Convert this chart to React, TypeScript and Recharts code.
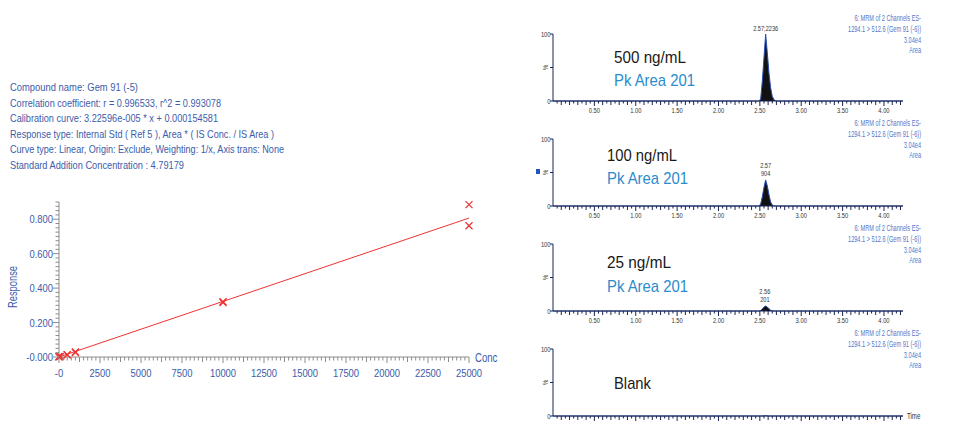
import { ComposedChart, Line, Scatter, XAxis, YAxis, AreaChart, Area, ReferenceDot } from 'recharts';

// calibration points (conc vs response)
const calConc = [0, 0, 100, 500, 500, 1000, 1000, 10000, 10000, 25000, 25000];
const calResp = [0.0, 0.003, 0.004, 0.012, 0.014, 0.026, 0.03, 0.316, 0.321, 0.885, 0.762];
// fitted line end points
const fitConc = [0, 25000];
const fitResp = [0.00016, 0.8066];

const concMajor = [0, 2500, 5000, 7500, 10000, 12500, 15000, 17500, 20000, 22500, 25000];
const respMajor = [0, 0.2, 0.4, 0.6, 0.8];

const infoLines = [
  'Compound name: Gem 91 (-5)',
  'Correlation coefficient: r = 0.996533, r^2 = 0.993078',
  'Calibration curve: 3.22596e-005 * x + 0.000154581',
  'Response type: Internal Std ( Ref 5 ), Area * ( IS Conc. / IS Area )',
  'Curve type: Linear, Origin: Exclude, Weighting: 1/x, Axis trans: None',
  'Standard Addition Concentration : 4.79179',
];

// chromatograms: retention time (min) vs %
const rtMinutes = [0, 2.47, 2.49, 2.51, 2.53, 2.55, 2.57, 2.59, 2.61, 2.63, 2.65, 2.67, 2.69, 2.71, 4.23];
const trace500 = [0, 0, 0, 3, 30, 65, 100, 72, 42, 20, 7, 2, 0.5, 0, 0];
const trace100 = [0, 0, 0, 3, 14, 28, 39, 30, 17, 6, 1.5, 0.3, 0, 0, 0];
const trace25 = [0, 0, 0, 0.8, 3, 6, 7.5, 6, 3.5, 1.2, 0.3, 0, 0, 0, 0];
const traceBlank = [0, 0, 0, 0, 0, 0.2, 0.4, 0.2, 0, 0, 0, 0, 0, 0, 0];
const traces = [trace500, trace100, trace25, traceBlank];

const sampleNames = ['500 ng/mL', '100 ng/mL', '25 ng/mL', 'Blank'];
const areaNotes = ['Pk Area 201', 'Pk Area 201', 'Pk Area 201', ''];
const peakRts = [2.57, 2.57, 2.56, 0];
const peakTops = [100, 39, 7.5, 0];
const peakTexts = [['2.57;2236'], ['2.57', '904'], ['2.56', '201'], []];
const headerLines = ['6: MRM of 2 Channels ES-', '1294.1 > 512.6 (Gem 91 (-6))', '3.04e4', 'Area'];
const rtMajor = [0.5, 1.0, 1.5, 2.0, 2.5, 3.0, 3.5, 4.0];

const BLUE = '#3c5caa';
const RED = '#ee3333';
const SANS = "'Liberation Sans', Arial, sans-serif";

const concTicks = Array.from({ length: 101 }, (_, i) => i * 250);
const respTicks = Array.from({ length: 37 }, (_, i) => Math.round(i * 25) / 1000);
const rtTicks = Array.from({ length: 84 }, (_, i) => Math.round((i + 1) * 5) / 100);

const calPoints = calConc.map((c, i) => ({ conc: c, resp: calResp[i] }));
const fitPoints = fitConc.map((c, i) => ({ conc: c, resp: fitResp[i] }));

// condensed text: the original uses a narrow face
function NText({ x, y, sx = 0.78, size, fill, anchor = 'start', rotate = 0, children }: any) {
  return (
    <text
      transform={`translate(${x} ${y}) rotate(${rotate}) scale(${sx} 1)`}
      fontSize={size}
      fill={fill}
      fontFamily={SANS}
      textAnchor={anchor}
    >
      {children}
    </text>
  );
}

function ConcTick({ x, y, payload }: any) {
  const v = payload.value;
  const major = concMajor.includes(v);
  const len = major ? 6 : v % 1250 === 0 ? 5 : 3.5;
  return (
    <g>
      <line x1={x} x2={x} y1={y} y2={y + len} stroke="#8c8c8c" />
      {major && (
        <NText x={x} y={y + 20} size={11.5} fill={BLUE} anchor="middle" sx={0.82}>
          {v === 0 ? '-0' : v}
        </NText>
      )}
    </g>
  );
}

function RespTick({ x, y, payload }: any) {
  const v = payload.value;
  const major = respMajor.some((m) => Math.abs(m - v) < 1e-6);
  const len = major ? 6 : 3.5;
  return (
    <g>
      <line x1={x} x2={x - len} y1={y} y2={y} stroke="#8c8c8c" />
      {major && (
        <NText x={x - 6} y={y + 4} size={11.5} fill={BLUE} anchor="end" sx={0.82}>
          {v === 0 ? '-0.000' : v.toFixed(3)}
        </NText>
      )}
    </g>
  );
}

function Cross({ cx, cy }: any) {
  const s = 3.5;
  return (
    <g stroke={RED} strokeWidth={1.2}>
      <line x1={cx - s} y1={cy - s} x2={cx + s} y2={cy + s} />
      <line x1={cx - s} y1={cy + s} x2={cx + s} y2={cy - s} />
    </g>
  );
}

function RtTick({ x, y, payload, showLabels }: any) {
  const v = payload.value;
  const major = rtMajor.some((m) => Math.abs(m - v) < 1e-6);
  const tenth = Math.abs(v * 10 - Math.round(v * 10)) < 1e-6;
  const len = major ? 5 : tenth ? 4 : 2.5;
  return (
    <g>
      <line x1={x} x2={x} y1={y} y2={y + len} stroke="#1c2550" />
      {major && showLabels && (
        <NText x={x} y={y + 11.5} size={8} fill="#333" anchor="middle" sx={0.72}>
          {v.toFixed(2)}
        </NText>
      )}
    </g>
  );
}

function PctTick({ x, y, payload }: any) {
  const v = payload.value;
  return (
    <g>
      <line x1={x} x2={x - 3} y1={y} y2={y} stroke="#1c2550" />
      {v === 50 ? (
        <NText x={x - 5} y={y} size={7.5} fill="#333" anchor="middle" rotate={-90} sx={0.8}>
          %
        </NText>
      ) : (
        <NText x={x - 2.5} y={y + 2.8} size={8} fill="#333" anchor="end" sx={0.72}>
          {v}
        </NText>
      )}
    </g>
  );
}

function PeakLabel({ cx, cy, lines }: any) {
  return (
    <g>
      {lines.map((t: string, i: number) => (
        <NText key={i} x={cx} y={cy - 3.5 - (lines.length - 1 - i) * 8.5} size={7.5} fill="#333" anchor="middle" sx={0.75}>
          {t}
        </NText>
      ))}
    </g>
  );
}

function ChromPanel({ index }: { index: number }) {
  const rows = rtMinutes.map((t, i) => ({ t, pct: traces[index][i] }));
  const lines = peakTexts[index];
  return (
    <div style={{ position: 'absolute', left: 530, top: 20 + 105 * index }}>
      <AreaChart width={400} height={105} data={rows} margin={{ top: 14, right: 27, bottom: 0, left: 0 }}>
        <XAxis
          type="number"
          dataKey="t"
          domain={[0, 4.23]}
          ticks={rtTicks}
          interval={0}
          tickSize={0}
          tickMargin={0}
          tickLine={false}
          height={24}
          axisLine={{ stroke: '#1c2550' }}
          tick={<RtTick showLabels={index < 3} />}
          allowDataOverflow
        />
        <YAxis
          type="number"
          domain={[0, 100]}
          ticks={[0, 50, 100]}
          interval={0}
          width={23}
          tickSize={0}
          tickMargin={0}
          tickLine={false}
          axisLine={{ stroke: '#1c2550' }}
          tick={<PctTick />}
        />
        <Area
          type="linear"
          dataKey="pct"
          stroke="#2b4fb0"
          strokeWidth={1}
          fill="#111111"
          fillOpacity={1}
          dot={false}
          activeDot={false}
          isAnimationActive={false}
        />
        {lines.length > 0 && (
          <ReferenceDot
            x={peakRts[index]}
            y={peakTops[index]}
            shape={(p: any) => <PeakLabel cx={p.cx} cy={p.cy} lines={lines} />}
          />
        )}
      </AreaChart>
    </div>
  );
}

const infoWidths = [128, 211, 208, 264, 274, 174];
const nameWidths = [72, 70, 64, 37];

export default function App() {
  return (
    <div style={{ position: 'absolute', left: 0, top: 0, width: 955, height: 423, background: '#fff', overflow: 'hidden' }}>
      <div style={{ position: 'absolute', left: 0, top: 190 }}>
        <ComposedChart width={510} height={210} margin={{ top: 12, right: 41, bottom: 0, left: 0 }}>
          <XAxis
            type="number"
            dataKey="conc"
            domain={[0, 25000]}
            ticks={concTicks}
            interval={0}
            tickSize={0}
            tickMargin={0}
            tickLine={false}
            height={43}
            axisLine={{ stroke: '#8c8c8c' }}
            tick={<ConcTick />}
          />
          <YAxis
            type="number"
            dataKey="resp"
            domain={[0, 0.9]}
            ticks={respTicks}
            interval={0}
            width={59}
            tickSize={0}
            tickMargin={0}
            tickLine={false}
            axisLine={{ stroke: '#8c8c8c' }}
            tick={<RespTick />}
          />
          <Line
            data={fitPoints}
            dataKey="resp"
            type="linear"
            stroke={RED}
            strokeWidth={1}
            dot={false}
            activeDot={false}
            isAnimationActive={false}
          />
          <Scatter data={calPoints} dataKey="resp" shape={<Cross />} isAnimationActive={false} />
        </ComposedChart>
      </div>

      {[0, 1, 2, 3].map((i) => (
        <ChromPanel key={i} index={i} />
      ))}

      <div style={{ position: 'absolute', left: 536, top: 169, width: 4, height: 5, background: '#2255bb' }} />

      <svg width={955} height={423} style={{ position: 'absolute', left: 0, top: 0, pointerEvents: 'none' }}>
        {infoLines.map((t, i) => (
          <text
            key={t}
            x={10}
            y={91 + i * 15.5}
            fontSize={11.5}
            fill={BLUE}
            fontFamily={SANS}
            textLength={infoWidths[i]}
            lengthAdjust="spacingAndGlyphs"
          >
            {t}
          </text>
        ))}
        <NText x={17} y={287} size={12} fill={BLUE} anchor="middle" rotate={-90} sx={0.78}>
          Response
        </NText>
        <NText x={475} y={362} size={12} fill={BLUE} sx={0.8}>
          Conc
        </NText>

        {[0, 1, 2, 3].map((i) => {
          const top = 20 + 105 * i;
          const nameX = i === 0 || i === 3 ? 614 : 607;
          const nameY = [62.7, 160.7, 268.3, 389.3][i];
          return (
            <g key={i}>
              {headerLines.map((t, j) => (
                <NText key={j} x={921} y={top + [0.5, 12, 22.7, 32.7][j]} size={8.5} fill="#5576c8" anchor="end" sx={0.66}>
                  {t}
                </NText>
              ))}
              <text
                x={nameX}
                y={nameY}
                fontSize={17}
                fill="#1a1a1a"
                fontFamily={SANS}
                textLength={nameWidths[i]}
                lengthAdjust="spacingAndGlyphs"
              >
                {sampleNames[i]}
              </text>
              {areaNotes[i] && (
                <text
                  x={nameX}
                  y={nameY + 23.4}
                  fontSize={17}
                  fill="#2b8bcc"
                  fontFamily={SANS}
                  textLength={81}
                  lengthAdjust="spacingAndGlyphs"
                >
                  {areaNotes[i]}
                </text>
              )}
            </g>
          );
        })}
        <NText x={907} y={419} size={8.5} fill="#333" sx={0.72}>
          Time
        </NText>
      </svg>
    </div>
  );
}
